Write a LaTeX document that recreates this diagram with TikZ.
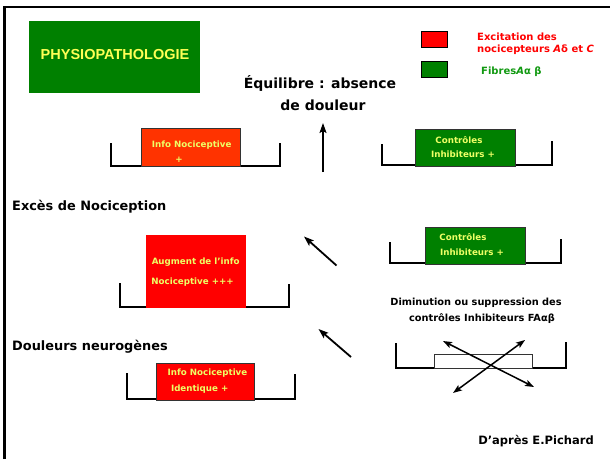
\documentclass[tikz,border=0pt]{standalone}
\usepackage{fontspec}
\setmainfont{DejaVu Sans}
\newfontfamily\arialfont{Liberation Sans}
\usetikzlibrary{arrows.meta}
\definecolor{dgreen}{HTML}{008000}
\definecolor{boxred}{HTML}{FF0000}
\definecolor{boxorange}{HTML}{FF3300}
\definecolor{txtyellow}{HTML}{EEFF66}
\definecolor{titleyellow}{HTML}{FFFF55}
\definecolor{legred}{HTML}{FF0000}
\definecolor{leggreen}{HTML}{119911}
\begin{document}
\begin{tikzpicture}[x=1pt,y=-1pt,
  tray/.style={line width=1.6pt},
  boxbase/.style={rectangle, inner sep=0pt, line width=0.8pt},
  btxt/.style={text=txtyellow, inner sep=0pt, font=\bfseries\fontsize{8.7}{11}\selectfont},
  bigtxt/.style={inner sep=0pt, font=\bfseries\fontsize{12.9}{16}\selectfont},
  legtxt/.style={inner sep=0pt, anchor=west, font=\bfseries\fontsize{10}{12}\selectfont},
  arr/.style={line width=1.8pt, -{Stealth[length=10pt,width=7pt,inset=2pt]}},
  darr/.style={line width=1.5pt, {Stealth[length=9pt,width=6.5pt,inset=2pt]}-{Stealth[length=9pt,width=6.5pt,inset=2pt]}}]
\useasboundingbox (0,0) rectangle (610,459);
% frame
\draw[line width=2.7pt] (4.3,459) -- (4.3,7) -- (612,7);

% title
\node[boxbase, fill=dgreen, minimum width=171pt, minimum height=72pt] (title) at (114.5,57) {};
\node[inner sep=0pt, text=titleyellow, font=\arialfont\bfseries\fontsize{14.5}{17}\selectfont] (titletxt) at (115,55) {PHYSIOPATHOLOGIE};

% legend
\node[boxbase, draw=black, fill=boxred, minimum width=26pt, minimum height=16pt] (legR) at (434,39) {};
\node[boxbase, draw=black, fill=dgreen, minimum width=26pt, minimum height=16pt] (legG) at (434,69) {};
\node[legtxt, text=legred] (legR1) at (477,37) {Excitation des};
\node[legtxt, text=legred] (legR2) at (477,50) {nocicepteurs \textit{A}δ et \textit{C}};
\node[legtxt, text=leggreen] (legG1) at (481,72) {Fibres\textit{A}α β};

% headline
\node[bigtxt, font=\bfseries\fontsize{14}{17}\selectfont] (eq1) at (320,83) {Équilibre : absence};
\node[bigtxt, font=\bfseries\fontsize{14}{17}\selectfont] (eq2) at (323,105) {de douleur};

% row 1
\draw[tray] (111,143) |- (280,166) -- (280,143);
\draw[tray] (382,144) |- (552,165) -- (552,141);
\node[boxbase, draw=black!80, fill=boxorange, minimum width=99pt, minimum height=38pt] (b1L) at (190.5,147) {};
\node[btxt] (b1Lt1) at (191.7,145) {Info Nociceptive};
\node[btxt] (b1Lt2) at (179,160) {+};
\node[boxbase, draw=black!80, fill=dgreen, minimum width=100pt, minimum height=37pt] (b1R) at (465,147.5) {};
\node[btxt] (b1Rt1) at (459,140) {Contrôles};
\node[btxt] (b1Rt2) at (463,154) {Inhibiteurs +};
\coordinate (upS) at (323,172);
\coordinate (upE) at (323,123);
\draw[arr] (upS) -- (upE);

% row 2
\node[bigtxt, anchor=west] (exces) at (12,207) {Excès de Nociception};
\draw[tray] (120,283) |- (289,307) -- (289,284);
\draw[tray] (390,242) |- (561,263) -- (561,239);
\node[boxbase, fill=boxred, minimum width=100pt, minimum height=73pt] (b2L) at (196,271.5) {};
\node[btxt] (b2Lt1) at (195.7,262) {Augment de l'info};
\node[btxt] (b2Lt2) at (192.5,282) {Nociceptive +++};
\node[boxbase, draw=black!80, fill=dgreen, minimum width=100pt, minimum height=37pt] (b2R) at (475,245.5) {};
\node[btxt] (b2Rt1) at (463,237) {Contrôles};
\node[btxt] (b2Rt2) at (472,252) {Inhibiteurs +};
\coordinate (d1S) at (336.5,265.5);
\coordinate (d1E) at (304,236.5);
\draw[arr] (d1S) -- (d1E);
\node[inner sep=0pt, font=\bfseries\fontsize{9.8}{12}\selectfont] (dim1) at (476,303) {Diminution ou suppression des};
\node[inner sep=0pt, font=\bfseries\fontsize{9.8}{12}\selectfont] (dim2) at (482,319) {contrôles Inhibiteurs FAαβ};

% row 3
\node[bigtxt, anchor=west] (doul) at (12,347) {Douleurs neurogènes};
\draw[tray] (127,373) |- (295,399) -- (295,374);
\draw[tray] (396,343) |- (566,368) -- (566,342);
\node[boxbase, draw=black!80, fill=boxred, minimum width=98pt, minimum height=37pt] (b3L) at (205,381.5) {};
\node[btxt] (b3Lt1) at (207.5,373) {Info Nociceptive};
\node[btxt] (b3Lt2) at (199.7,389) {Identique +};
\node[boxbase, draw=black!80, fill=white, minimum width=98pt, minimum height=14pt] (b3R) at (483,361) {};
\coordinate (d2S) at (351,357);
\coordinate (d2E) at (318.5,329);
\draw[arr] (d2S) -- (d2E);
\coordinate (xA1) at (443,341);
\coordinate (xA2) at (534,387);
\coordinate (xB1) at (525,340);
\coordinate (xB2) at (453,393);
\draw[darr] (xA1) -- (xA2);
\draw[darr] (xB1) -- (xB2);

% credit
\node[inner sep=0pt, font=\bfseries\fontsize{11.5}{14}\selectfont] (credit) at (536,441.5) {D'après E.Pichard};
\end{tikzpicture}
\end{document}
